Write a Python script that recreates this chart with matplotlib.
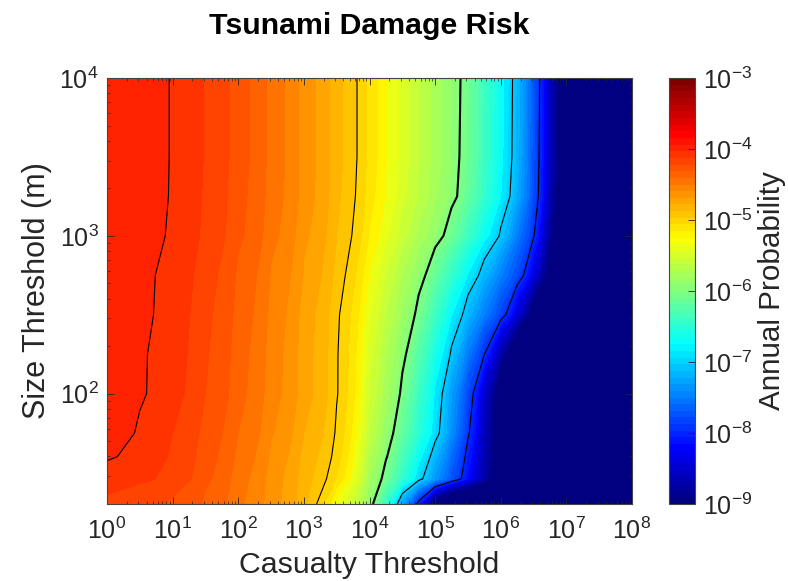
import numpy as np
import matplotlib
matplotlib.use('Agg')
import matplotlib.pyplot as plt
from matplotlib.colors import Normalize, LogNorm, LinearSegmentedColormap
from matplotlib.cm import ScalarMappable
from matplotlib.ticker import LogLocator, NullFormatter

plt.rcParams['font.family'] = ['Liberation Sans', 'DejaVu Sans']
plt.rcParams['mathtext.fontset'] = 'custom'
plt.rcParams['mathtext.rm'] = 'Liberation Sans'
plt.rcParams['mathtext.it'] = 'Liberation Sans:italic'
plt.rcParams['mathtext.bf'] = 'Liberation Sans:bold'

# grid: log10 of casualty threshold (columns), log10 of size threshold in m (rows)
casualty_exp = [0, 0.5, 1, 1.5, 2, 2.5, 3, 3.5, 4, 4.25, 4.5, 4.75, 5, 5.25,
                5.5, 5.75, 6, 6.25, 6.5, 6.75, 7, 7.5, 8]
size_exp = [1.301, 1.46, 1.60, 1.75, 2.0, 2.25, 2.5, 2.75, 3.0, 3.25, 3.5, 4.0]

# log10 annual probability, one row per size threshold (bottom to top)
log_prob = [
    [-4.13, -4.17, -4.22, -4.32, -4.48, -4.66, -4.88, -5.34, -5.90, -6.50, -7.29, -8.13,
     -9.22, -9.8, -9.8, -9.8, -9.8, -9.8, -9.8, -9.8, -9.8, -9.8, -9.8],
    [-4.04, -4.08, -4.14, -4.28, -4.46, -4.65, -4.86, -5.11, -5.79, -6.10, -6.51, -6.92,
     -7.34, -7.76, -8.22, -8.73, -9.24, -9.8, -9.8, -9.8, -9.8, -9.8, -9.8],
    [-3.99, -4.04, -4.12, -4.26, -4.43, -4.62, -4.84, -5.05, -5.70, -5.98, -6.35, -6.74,
     -7.15, -7.62, -8.11, -8.67, -9.22, -9.8, -9.8, -9.8, -9.8, -9.8, -9.8],
    [-3.97, -4.01, -4.10, -4.24, -4.40, -4.59, -4.80, -5.02, -5.60, -5.88, -6.20, -6.55,
     -6.90, -7.40, -7.96, -8.61, -9.26, -9.8, -9.8, -9.8, -9.8, -9.8, -9.8],
    [-3.95, -3.99, -4.07, -4.20, -4.37, -4.56, -4.76, -4.99, -5.51, -5.77, -6.05, -6.44,
     -6.83, -7.30, -7.83, -8.50, -9.24, -9.8, -9.8, -9.8, -9.8, -9.8, -9.8],
    [-3.94, -3.99, -4.06, -4.19, -4.36, -4.55, -4.76, -4.99, -5.46, -5.70, -5.94, -6.28,
     -6.66, -7.04, -7.52, -8.00, -8.71, -9.43, -9.8, -9.8, -9.8, -9.8, -9.8],
    [-3.93, -3.98, -4.05, -4.18, -4.34, -4.53, -4.75, -4.98, -5.39, -5.61, -5.83, -6.07,
     -6.43, -6.79, -7.14, -7.50, -7.86, -8.43, -9.14, -9.8, -9.8, -9.8, -9.8],
    [-3.92, -3.98, -4.04, -4.16, -4.32, -4.51, -4.71, -4.94, -5.31, -5.51, -5.71, -5.91,
     -6.18, -6.49, -6.81, -7.14, -7.48, -7.82, -8.38, -9.16, -9.8, -9.8, -9.8],
    [-3.91, -3.96, -4.02, -4.13, -4.28, -4.47, -4.68, -4.90, -5.21, -5.38, -5.56, -5.73,
     -5.90, -6.13, -6.43, -6.73, -7.04, -7.51, -7.98, -8.83, -9.69, -9.8, -9.8],
    [-3.90, -3.96, -4.01, -4.12, -4.27, -4.45, -4.65, -4.88, -5.16, -5.31, -5.47, -5.62,
     -5.78, -5.93, -6.18, -6.49, -6.80, -7.21, -7.81, -8.63, -9.56, -9.8, -9.8],
    [-3.90, -3.95, -4.01, -4.11, -4.26, -4.44, -4.65, -4.87, -5.14, -5.29, -5.45, -5.60,
     -5.75, -5.91, -6.13, -6.44, -6.76, -7.15, -7.78, -8.59, -9.52, -9.8, -9.8],
    [-3.90, -3.95, -4.01, -4.11, -4.26, -4.44, -4.65, -4.87, -5.14, -5.29, -5.45, -5.60,
     -5.75, -5.90, -6.11, -6.43, -6.75, -7.13, -7.75, -8.56, -9.48, -9.8, -9.8],
]

# black contour lines (log10 probability)
line_levels = [-8, -7, -6, -5, -4]
line_widths = [0.8, 0.8, 1.5, 0.8, 0.8]
cbar_exp = [-9, -8, -7, -6, -5, -4, -3]

casualty = 10.0 ** np.array(casualty_exp)
size = 10.0 ** np.array(size_exp)
Z = np.array(log_prob)

# MATLAB style jet (64 colours)
jet_segments = {
    'red': [(0, 0, 0), (0.375, 0, 0), (0.625, 1, 1), (0.875, 1, 1), (1, 0.5, 0.5)],
    'green': [(0, 0, 0), (0.125, 0, 0), (0.375, 1, 1), (0.625, 1, 1), (0.875, 0, 0), (1, 0, 0)],
    'blue': [(0, 0.5, 0.5), (0.125, 1, 1), (0.375, 1, 1), (0.625, 0, 0), (1, 0, 0)],
}
cmap = LinearSegmentedColormap('matlab_jet', jet_segments, N=64)
fill_levels = np.linspace(-10, -3, 71)

fig = plt.figure(figsize=(7.88, 5.81), dpi=100)
ax = fig.add_axes([107 / 788, 1 - 504 / 581, 525 / 788, 426 / 581])

ax.contourf(casualty, size, Z, levels=fill_levels, cmap=cmap, norm=Normalize(-9, -3))
ax.contour(casualty, size, Z, levels=line_levels, colors='k', linewidths=line_widths,
           linestyles='solid')

ax.set_xscale('log')
ax.set_yscale('log')
ax.set_xlim(1, 1e8)
ax.set_ylim(20, 1e4)
ax.xaxis.set_major_locator(LogLocator(base=10, numticks=20))
ax.xaxis.set_minor_locator(LogLocator(base=10, subs=np.arange(2, 10), numticks=20))
ax.yaxis.set_minor_locator(LogLocator(base=10, subs=np.arange(2, 10), numticks=20))
ax.xaxis.set_minor_formatter(NullFormatter())
ax.yaxis.set_minor_formatter(NullFormatter())

ax.tick_params(which='both', direction='in', top=True, right=True, colors='#262626')
ax.tick_params(which='major', length=5, width=0.6, labelsize=18)
ax.tick_params(axis='x', which='major', pad=10)
ax.tick_params(axis='y', which='major', pad=6)
ax.tick_params(which='minor', length=2.5, width=0.5)
for s in ax.spines.values():
    s.set_edgecolor('#444444')
    s.set_linewidth(0.8)

ax.set_title('Tsunami Damage Risk', fontsize=21.8, fontweight='bold', pad=32)
ax.set_xlabel('Casualty Threshold', fontsize=21.8, color='#262626', labelpad=5)
ax.set_ylabel('Size Threshold (m)', fontsize=22, color='#262626', labelpad=5)

cax = fig.add_axes([669 / 788, 1 - 504 / 581, 26 / 788, 426 / 581])
sm = ScalarMappable(norm=LogNorm(1e-9, 1e-3), cmap=cmap)
cb = fig.colorbar(sm, cax=cax)
cb.set_ticks([10.0 ** e for e in cbar_exp])
cb.minorticks_off()
cax.tick_params(direction='in', length=5, width=0.6, labelsize=18, colors='#262626', pad=6)
cb.outline.set_edgecolor('#444444')
cb.outline.set_linewidth(0.8)
cb.set_label('Annual Probability', fontsize=21.3, color='#262626', labelpad=4)

fig.savefig('out.png', dpi=100)
